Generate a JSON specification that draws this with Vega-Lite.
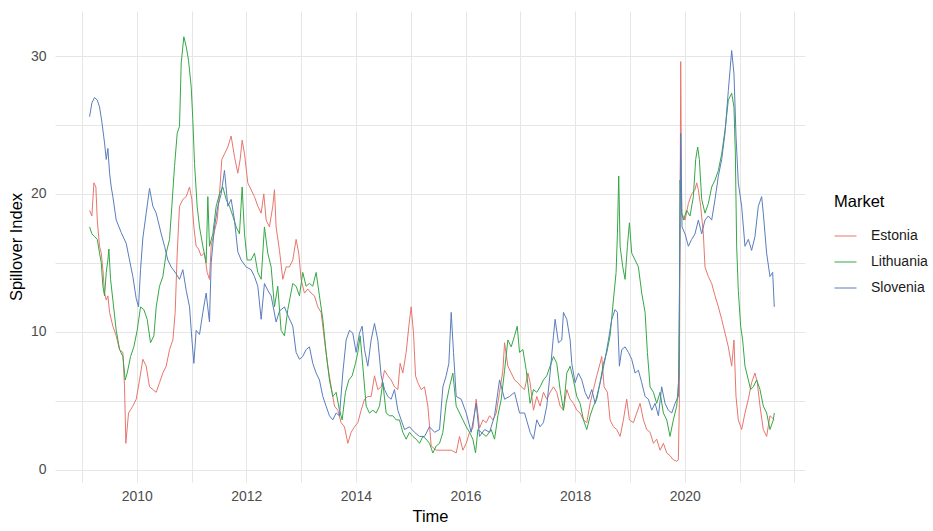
{
"$schema": "https://vega.github.io/schema/vega-lite/v6.json",
"width": 750, "height": 471,
"autosize": {"type": "none"},
"padding": {"left": 55, "top": 11, "right": 128, "bottom": 49},
"background": "white",
"config": {"view": {"stroke": null}, "font": "Liberation Sans"},
"data": {"values": [
{"time":2009.140,"market":"Estonia","value":18.8},{"time":2009.182,"market":"Estonia","value":18.4},{"time":2009.219,"market":"Estonia","value":20.8},{"time":2009.255,"market":"Estonia","value":20.5},{"time":2009.280,"market":"Estonia","value":18.1},{"time":2009.322,"market":"Estonia","value":16.2},{"time":2009.353,"market":"Estonia","value":15.7},{"time":2009.383,"market":"Estonia","value":14.5},{"time":2009.413,"market":"Estonia","value":12.8},{"time":2009.444,"market":"Estonia","value":12.3},{"time":2009.474,"market":"Estonia","value":12.6},{"time":2009.505,"market":"Estonia","value":11.4},{"time":2009.565,"market":"Estonia","value":10.4},{"time":2009.626,"market":"Estonia","value":9.7},{"time":2009.687,"market":"Estonia","value":8.7},{"time":2009.748,"market":"Estonia","value":8.5},{"time":2009.778,"market":"Estonia","value":6.0},{"time":2009.802,"market":"Estonia","value":1.9},{"time":2009.851,"market":"Estonia","value":4.1},{"time":2009.930,"market":"Estonia","value":4.6},{"time":2009.991,"market":"Estonia","value":5.1},{"time":2010.052,"market":"Estonia","value":6.5},{"time":2010.112,"market":"Estonia","value":8.0},{"time":2010.173,"market":"Estonia","value":7.5},{"time":2010.234,"market":"Estonia","value":6.0},{"time":2010.295,"market":"Estonia","value":5.8},{"time":2010.356,"market":"Estonia","value":5.6},{"time":2010.416,"market":"Estonia","value":6.3},{"time":2010.477,"market":"Estonia","value":7.0},{"time":2010.538,"market":"Estonia","value":7.5},{"time":2010.599,"market":"Estonia","value":8.7},{"time":2010.660,"market":"Estonia","value":9.4},{"time":2010.702,"market":"Estonia","value":11.4},{"time":2010.739,"market":"Estonia","value":15.7},{"time":2010.781,"market":"Estonia","value":19.1},{"time":2010.842,"market":"Estonia","value":19.6},{"time":2010.903,"market":"Estonia","value":19.8},{"time":2010.964,"market":"Estonia","value":20.5},{"time":2011.006,"market":"Estonia","value":19.6},{"time":2011.043,"market":"Estonia","value":17.6},{"time":2011.085,"market":"Estonia","value":16.2},{"time":2011.128,"market":"Estonia","value":16.0},{"time":2011.176,"market":"Estonia","value":15.5},{"time":2011.237,"market":"Estonia","value":15.7},{"time":2011.286,"market":"Estonia","value":14.3},{"time":2011.328,"market":"Estonia","value":13.8},{"time":2011.359,"market":"Estonia","value":16.2},{"time":2011.407,"market":"Estonia","value":17.1},{"time":2011.468,"market":"Estonia","value":18.1},{"time":2011.511,"market":"Estonia","value":20.0},{"time":2011.553,"market":"Estonia","value":22.5},{"time":2011.602,"market":"Estonia","value":22.9},{"time":2011.663,"market":"Estonia","value":23.4},{"time":2011.723,"market":"Estonia","value":24.2},{"time":2011.784,"market":"Estonia","value":22.7},{"time":2011.845,"market":"Estonia","value":21.5},{"time":2011.888,"market":"Estonia","value":22.5},{"time":2011.924,"market":"Estonia","value":23.9},{"time":2011.967,"market":"Estonia","value":22.9},{"time":2012.027,"market":"Estonia","value":20.8},{"time":2012.088,"market":"Estonia","value":20.3},{"time":2012.149,"market":"Estonia","value":19.8},{"time":2012.210,"market":"Estonia","value":19.1},{"time":2012.271,"market":"Estonia","value":18.6},{"time":2012.319,"market":"Estonia","value":20.0},{"time":2012.362,"market":"Estonia","value":18.1},{"time":2012.422,"market":"Estonia","value":17.6},{"time":2012.483,"market":"Estonia","value":19.1},{"time":2012.514,"market":"Estonia","value":20.3},{"time":2012.544,"market":"Estonia","value":17.6},{"time":2012.605,"market":"Estonia","value":15.9},{"time":2012.666,"market":"Estonia","value":13.8},{"time":2012.726,"market":"Estonia","value":14.7},{"time":2012.787,"market":"Estonia","value":14.7},{"time":2012.848,"market":"Estonia","value":15.2},{"time":2012.909,"market":"Estonia","value":16.7},{"time":2012.957,"market":"Estonia","value":15.7},{"time":2013.000,"market":"Estonia","value":13.8},{"time":2013.061,"market":"Estonia","value":12.8},{"time":2013.122,"market":"Estonia","value":13.1},{"time":2013.183,"market":"Estonia","value":12.8},{"time":2013.243,"market":"Estonia","value":12.6},{"time":2013.304,"market":"Estonia","value":11.8},{"time":2013.365,"market":"Estonia","value":11.4},{"time":2013.426,"market":"Estonia","value":9.4},{"time":2013.487,"market":"Estonia","value":7.5},{"time":2013.548,"market":"Estonia","value":6.0},{"time":2013.609,"market":"Estonia","value":4.6},{"time":2013.669,"market":"Estonia","value":4.3},{"time":2013.730,"market":"Estonia","value":3.4},{"time":2013.791,"market":"Estonia","value":3.1},{"time":2013.852,"market":"Estonia","value":1.9},{"time":2013.913,"market":"Estonia","value":2.7},{"time":2013.974,"market":"Estonia","value":3.1},{"time":2014.035,"market":"Estonia","value":3.4},{"time":2014.096,"market":"Estonia","value":4.3},{"time":2014.157,"market":"Estonia","value":5.1},{"time":2014.217,"market":"Estonia","value":5.3},{"time":2014.278,"market":"Estonia","value":5.3},{"time":2014.339,"market":"Estonia","value":6.8},{"time":2014.400,"market":"Estonia","value":5.8},{"time":2014.461,"market":"Estonia","value":6.0},{"time":2014.522,"market":"Estonia","value":7.2},{"time":2014.582,"market":"Estonia","value":6.8},{"time":2014.643,"market":"Estonia","value":6.5},{"time":2014.704,"market":"Estonia","value":6.0},{"time":2014.765,"market":"Estonia","value":5.8},{"time":2014.807,"market":"Estonia","value":7.7},{"time":2014.856,"market":"Estonia","value":7.0},{"time":2014.917,"market":"Estonia","value":8.5},{"time":2014.966,"market":"Estonia","value":10.4},{"time":2015.008,"market":"Estonia","value":11.8},{"time":2015.051,"market":"Estonia","value":9.9},{"time":2015.088,"market":"Estonia","value":6.8},{"time":2015.130,"market":"Estonia","value":6.3},{"time":2015.191,"market":"Estonia","value":5.8},{"time":2015.252,"market":"Estonia","value":6.0},{"time":2015.313,"market":"Estonia","value":4.6},{"time":2015.374,"market":"Estonia","value":1.7},{"time":2015.465,"market":"Estonia","value":1.4},{"time":2015.556,"market":"Estonia","value":1.4},{"time":2015.647,"market":"Estonia","value":1.4},{"time":2015.739,"market":"Estonia","value":1.4},{"time":2015.830,"market":"Estonia","value":1.2},{"time":2015.891,"market":"Estonia","value":2.4},{"time":2015.952,"market":"Estonia","value":1.4},{"time":2016.013,"market":"Estonia","value":1.9},{"time":2016.074,"market":"Estonia","value":2.7},{"time":2016.134,"market":"Estonia","value":3.0},{"time":2016.195,"market":"Estonia","value":5.1},{"time":2016.256,"market":"Estonia","value":3.0},{"time":2016.317,"market":"Estonia","value":3.6},{"time":2016.378,"market":"Estonia","value":3.4},{"time":2016.439,"market":"Estonia","value":3.9},{"time":2016.500,"market":"Estonia","value":3.6},{"time":2016.561,"market":"Estonia","value":4.1},{"time":2016.621,"market":"Estonia","value":5.6},{"time":2016.682,"market":"Estonia","value":7.2},{"time":2016.713,"market":"Estonia","value":9.2},{"time":2016.773,"market":"Estonia","value":7.5},{"time":2016.834,"market":"Estonia","value":7.0},{"time":2016.895,"market":"Estonia","value":6.5},{"time":2016.956,"market":"Estonia","value":6.3},{"time":2017.017,"market":"Estonia","value":6.0},{"time":2017.078,"market":"Estonia","value":5.8},{"time":2017.139,"market":"Estonia","value":7.0},{"time":2017.179,"market":"Estonia","value":6.3},{"time":2017.240,"market":"Estonia","value":4.3},{"time":2017.301,"market":"Estonia","value":5.3},{"time":2017.361,"market":"Estonia","value":4.6},{"time":2017.422,"market":"Estonia","value":5.6},{"time":2017.483,"market":"Estonia","value":5.1},{"time":2017.544,"market":"Estonia","value":5.6},{"time":2017.605,"market":"Estonia","value":6.0},{"time":2017.665,"market":"Estonia","value":5.6},{"time":2017.726,"market":"Estonia","value":4.6},{"time":2017.787,"market":"Estonia","value":4.3},{"time":2017.848,"market":"Estonia","value":5.8},{"time":2017.909,"market":"Estonia","value":5.1},{"time":2017.969,"market":"Estonia","value":4.8},{"time":2018.030,"market":"Estonia","value":4.3},{"time":2018.091,"market":"Estonia","value":4.1},{"time":2018.152,"market":"Estonia","value":3.6},{"time":2018.213,"market":"Estonia","value":3.4},{"time":2018.274,"market":"Estonia","value":4.8},{"time":2018.334,"market":"Estonia","value":5.8},{"time":2018.395,"market":"Estonia","value":6.8},{"time":2018.456,"market":"Estonia","value":7.7},{"time":2018.486,"market":"Estonia","value":8.2},{"time":2018.529,"market":"Estonia","value":6.0},{"time":2018.590,"market":"Estonia","value":5.6},{"time":2018.638,"market":"Estonia","value":3.6},{"time":2018.699,"market":"Estonia","value":3.1},{"time":2018.760,"market":"Estonia","value":2.9},{"time":2018.821,"market":"Estonia","value":2.4},{"time":2018.881,"market":"Estonia","value":3.6},{"time":2018.942,"market":"Estonia","value":5.1},{"time":2018.991,"market":"Estonia","value":3.6},{"time":2019.064,"market":"Estonia","value":3.4},{"time":2019.125,"market":"Estonia","value":4.1},{"time":2019.185,"market":"Estonia","value":4.8},{"time":2019.246,"market":"Estonia","value":3.6},{"time":2019.307,"market":"Estonia","value":2.9},{"time":2019.368,"market":"Estonia","value":2.7},{"time":2019.429,"market":"Estonia","value":1.9},{"time":2019.489,"market":"Estonia","value":2.2},{"time":2019.550,"market":"Estonia","value":1.4},{"time":2019.611,"market":"Estonia","value":1.9},{"time":2019.672,"market":"Estonia","value":1.2},{"time":2019.732,"market":"Estonia","value":1.0},{"time":2019.793,"market":"Estonia","value":0.7},{"time":2019.854,"market":"Estonia","value":0.6},{"time":2019.884,"market":"Estonia","value":0.7},{"time":2019.902,"market":"Estonia","value":4.8},{"time":2019.927,"market":"Estonia","value":29.6},{"time":2019.945,"market":"Estonia","value":18.6},{"time":2020.006,"market":"Estonia","value":18.1},{"time":2020.067,"market":"Estonia","value":19.3},{"time":2020.127,"market":"Estonia","value":20.0},{"time":2020.188,"market":"Estonia","value":20.3},{"time":2020.219,"market":"Estonia","value":20.8},{"time":2020.249,"market":"Estonia","value":20.3},{"time":2020.291,"market":"Estonia","value":19.1},{"time":2020.340,"market":"Estonia","value":17.1},{"time":2020.370,"market":"Estonia","value":14.7},{"time":2020.431,"market":"Estonia","value":14.0},{"time":2020.492,"market":"Estonia","value":13.5},{"time":2020.553,"market":"Estonia","value":12.6},{"time":2020.614,"market":"Estonia","value":11.8},{"time":2020.675,"market":"Estonia","value":10.9},{"time":2020.735,"market":"Estonia","value":9.9},{"time":2020.796,"market":"Estonia","value":8.9},{"time":2020.857,"market":"Estonia","value":7.5},{"time":2020.899,"market":"Estonia","value":9.4},{"time":2020.936,"market":"Estonia","value":5.3},{"time":2020.978,"market":"Estonia","value":3.6},{"time":2021.039,"market":"Estonia","value":2.9},{"time":2021.100,"market":"Estonia","value":4.1},{"time":2021.161,"market":"Estonia","value":5.1},{"time":2021.221,"market":"Estonia","value":6.3},{"time":2021.282,"market":"Estonia","value":7.0},{"time":2021.325,"market":"Estonia","value":6.3},{"time":2021.374,"market":"Estonia","value":4.6},{"time":2021.434,"market":"Estonia","value":2.9},{"time":2021.495,"market":"Estonia","value":2.4},{"time":2021.556,"market":"Estonia","value":3.9},{"time":2021.635,"market":"Estonia","value":3.6},
{"time":2009.140,"market":"Lithuania","value":17.6},{"time":2009.182,"market":"Lithuania","value":17.1},{"time":2009.231,"market":"Lithuania","value":16.9},{"time":2009.280,"market":"Lithuania","value":16.7},{"time":2009.322,"market":"Lithuania","value":15.7},{"time":2009.353,"market":"Lithuania","value":15.0},{"time":2009.383,"market":"Lithuania","value":13.3},{"time":2009.413,"market":"Lithuania","value":12.6},{"time":2009.444,"market":"Lithuania","value":14.3},{"time":2009.474,"market":"Lithuania","value":15.2},{"time":2009.492,"market":"Lithuania","value":16.0},{"time":2009.523,"market":"Lithuania","value":13.8},{"time":2009.565,"market":"Lithuania","value":12.3},{"time":2009.626,"market":"Lithuania","value":10.1},{"time":2009.687,"market":"Lithuania","value":8.7},{"time":2009.748,"market":"Lithuania","value":8.2},{"time":2009.790,"market":"Lithuania","value":6.5},{"time":2009.827,"market":"Lithuania","value":7.0},{"time":2009.888,"market":"Lithuania","value":8.2},{"time":2009.948,"market":"Lithuania","value":8.9},{"time":2010.009,"market":"Lithuania","value":10.1},{"time":2010.070,"market":"Lithuania","value":11.8},{"time":2010.131,"market":"Lithuania","value":11.6},{"time":2010.191,"market":"Lithuania","value":10.9},{"time":2010.252,"market":"Lithuania","value":9.2},{"time":2010.313,"market":"Lithuania","value":9.7},{"time":2010.356,"market":"Lithuania","value":11.8},{"time":2010.416,"market":"Lithuania","value":13.3},{"time":2010.477,"market":"Lithuania","value":14.0},{"time":2010.538,"market":"Lithuania","value":15.7},{"time":2010.599,"market":"Lithuania","value":16.7},{"time":2010.641,"market":"Lithuania","value":19.1},{"time":2010.690,"market":"Lithuania","value":22.0},{"time":2010.739,"market":"Lithuania","value":24.4},{"time":2010.781,"market":"Lithuania","value":24.9},{"time":2010.812,"market":"Lithuania","value":29.5},{"time":2010.860,"market":"Lithuania","value":31.4},{"time":2010.903,"market":"Lithuania","value":30.7},{"time":2010.945,"market":"Lithuania","value":29.7},{"time":2010.994,"market":"Lithuania","value":27.8},{"time":2011.024,"market":"Lithuania","value":25.4},{"time":2011.055,"market":"Lithuania","value":22.2},{"time":2011.103,"market":"Lithuania","value":19.1},{"time":2011.146,"market":"Lithuania","value":17.6},{"time":2011.207,"market":"Lithuania","value":16.2},{"time":2011.267,"market":"Lithuania","value":15.0},{"time":2011.298,"market":"Lithuania","value":19.8},{"time":2011.328,"market":"Lithuania","value":16.2},{"time":2011.389,"market":"Lithuania","value":17.1},{"time":2011.450,"market":"Lithuania","value":19.1},{"time":2011.511,"market":"Lithuania","value":20.0},{"time":2011.571,"market":"Lithuania","value":20.5},{"time":2011.632,"market":"Lithuania","value":19.6},{"time":2011.693,"market":"Lithuania","value":19.1},{"time":2011.754,"market":"Lithuania","value":18.4},{"time":2011.815,"market":"Lithuania","value":17.6},{"time":2011.875,"market":"Lithuania","value":17.1},{"time":2011.924,"market":"Lithuania","value":20.5},{"time":2011.967,"market":"Lithuania","value":17.1},{"time":2012.015,"market":"Lithuania","value":15.2},{"time":2012.088,"market":"Lithuania","value":15.2},{"time":2012.149,"market":"Lithuania","value":15.7},{"time":2012.210,"market":"Lithuania","value":14.3},{"time":2012.271,"market":"Lithuania","value":13.8},{"time":2012.331,"market":"Lithuania","value":17.6},{"time":2012.392,"market":"Lithuania","value":15.7},{"time":2012.453,"market":"Lithuania","value":14.7},{"time":2012.514,"market":"Lithuania","value":11.8},{"time":2012.574,"market":"Lithuania","value":13.3},{"time":2012.635,"market":"Lithuania","value":10.1},{"time":2012.696,"market":"Lithuania","value":9.7},{"time":2012.757,"market":"Lithuania","value":11.6},{"time":2012.848,"market":"Lithuania","value":13.5},{"time":2012.909,"market":"Lithuania","value":13.3},{"time":2012.970,"market":"Lithuania","value":12.6},{"time":2013.030,"market":"Lithuania","value":14.3},{"time":2013.091,"market":"Lithuania","value":13.3},{"time":2013.152,"market":"Lithuania","value":13.5},{"time":2013.213,"market":"Lithuania","value":13.3},{"time":2013.274,"market":"Lithuania","value":14.3},{"time":2013.335,"market":"Lithuania","value":12.6},{"time":2013.396,"market":"Lithuania","value":10.9},{"time":2013.456,"market":"Lithuania","value":8.5},{"time":2013.517,"market":"Lithuania","value":6.5},{"time":2013.578,"market":"Lithuania","value":5.3},{"time":2013.639,"market":"Lithuania","value":5.6},{"time":2013.700,"market":"Lithuania","value":4.3},{"time":2013.749,"market":"Lithuania","value":3.6},{"time":2013.809,"market":"Lithuania","value":5.6},{"time":2013.870,"market":"Lithuania","value":6.5},{"time":2013.931,"market":"Lithuania","value":6.8},{"time":2013.992,"market":"Lithuania","value":7.7},{"time":2014.035,"market":"Lithuania","value":8.5},{"time":2014.077,"market":"Lithuania","value":9.7},{"time":2014.126,"market":"Lithuania","value":7.5},{"time":2014.187,"market":"Lithuania","value":4.6},{"time":2014.248,"market":"Lithuania","value":4.1},{"time":2014.309,"market":"Lithuania","value":4.3},{"time":2014.369,"market":"Lithuania","value":4.1},{"time":2014.430,"market":"Lithuania","value":4.6},{"time":2014.491,"market":"Lithuania","value":6.3},{"time":2014.552,"market":"Lithuania","value":4.1},{"time":2014.613,"market":"Lithuania","value":3.9},{"time":2014.674,"market":"Lithuania","value":3.9},{"time":2014.735,"market":"Lithuania","value":3.6},{"time":2014.795,"market":"Lithuania","value":3.6},{"time":2014.856,"market":"Lithuania","value":2.7},{"time":2014.917,"market":"Lithuania","value":2.2},{"time":2014.978,"market":"Lithuania","value":2.7},{"time":2015.039,"market":"Lithuania","value":2.4},{"time":2015.100,"market":"Lithuania","value":2.2},{"time":2015.161,"market":"Lithuania","value":1.9},{"time":2015.222,"market":"Lithuania","value":2.4},{"time":2015.282,"market":"Lithuania","value":2.2},{"time":2015.343,"market":"Lithuania","value":1.9},{"time":2015.404,"market":"Lithuania","value":1.2},{"time":2015.465,"market":"Lithuania","value":1.7},{"time":2015.526,"market":"Lithuania","value":1.9},{"time":2015.587,"market":"Lithuania","value":2.7},{"time":2015.647,"market":"Lithuania","value":4.8},{"time":2015.708,"market":"Lithuania","value":6.0},{"time":2015.769,"market":"Lithuania","value":7.0},{"time":2015.830,"market":"Lithuania","value":4.6},{"time":2015.891,"market":"Lithuania","value":4.1},{"time":2015.952,"market":"Lithuania","value":3.6},{"time":2016.013,"market":"Lithuania","value":3.1},{"time":2016.074,"market":"Lithuania","value":2.7},{"time":2016.134,"market":"Lithuania","value":2.2},{"time":2016.183,"market":"Lithuania","value":1.2},{"time":2016.226,"market":"Lithuania","value":2.9},{"time":2016.287,"market":"Lithuania","value":2.7},{"time":2016.378,"market":"Lithuania","value":2.4},{"time":2016.469,"market":"Lithuania","value":2.9},{"time":2016.530,"market":"Lithuania","value":2.2},{"time":2016.591,"market":"Lithuania","value":3.9},{"time":2016.652,"market":"Lithuania","value":5.1},{"time":2016.713,"market":"Lithuania","value":7.2},{"time":2016.773,"market":"Lithuania","value":9.4},{"time":2016.834,"market":"Lithuania","value":8.9},{"time":2016.895,"market":"Lithuania","value":9.7},{"time":2016.944,"market":"Lithuania","value":10.4},{"time":2016.986,"market":"Lithuania","value":8.5},{"time":2017.047,"market":"Lithuania","value":8.7},{"time":2017.108,"market":"Lithuania","value":7.2},{"time":2017.179,"market":"Lithuania","value":4.8},{"time":2017.240,"market":"Lithuania","value":5.8},{"time":2017.301,"market":"Lithuania","value":5.6},{"time":2017.361,"market":"Lithuania","value":6.0},{"time":2017.422,"market":"Lithuania","value":6.5},{"time":2017.483,"market":"Lithuania","value":6.8},{"time":2017.544,"market":"Lithuania","value":7.5},{"time":2017.605,"market":"Lithuania","value":8.2},{"time":2017.665,"market":"Lithuania","value":7.7},{"time":2017.726,"market":"Lithuania","value":5.8},{"time":2017.787,"market":"Lithuania","value":4.3},{"time":2017.848,"market":"Lithuania","value":7.0},{"time":2017.909,"market":"Lithuania","value":7.5},{"time":2017.969,"market":"Lithuania","value":6.5},{"time":2018.030,"market":"Lithuania","value":5.3},{"time":2018.091,"market":"Lithuania","value":4.8},{"time":2018.152,"market":"Lithuania","value":3.6},{"time":2018.213,"market":"Lithuania","value":2.9},{"time":2018.274,"market":"Lithuania","value":3.9},{"time":2018.334,"market":"Lithuania","value":4.6},{"time":2018.395,"market":"Lithuania","value":5.1},{"time":2018.456,"market":"Lithuania","value":6.3},{"time":2018.517,"market":"Lithuania","value":7.7},{"time":2018.578,"market":"Lithuania","value":8.5},{"time":2018.638,"market":"Lithuania","value":9.7},{"time":2018.699,"market":"Lithuania","value":12.3},{"time":2018.748,"market":"Lithuania","value":14.3},{"time":2018.772,"market":"Lithuania","value":17.1},{"time":2018.796,"market":"Lithuania","value":21.3},{"time":2018.821,"market":"Lithuania","value":16.2},{"time":2018.869,"market":"Lithuania","value":14.7},{"time":2018.912,"market":"Lithuania","value":13.8},{"time":2018.954,"market":"Lithuania","value":16.2},{"time":2018.991,"market":"Lithuania","value":17.9},{"time":2019.033,"market":"Lithuania","value":15.7},{"time":2019.094,"market":"Lithuania","value":15.2},{"time":2019.155,"market":"Lithuania","value":14.7},{"time":2019.216,"market":"Lithuania","value":12.8},{"time":2019.277,"market":"Lithuania","value":11.4},{"time":2019.319,"market":"Lithuania","value":8.5},{"time":2019.368,"market":"Lithuania","value":6.0},{"time":2019.429,"market":"Lithuania","value":5.6},{"time":2019.489,"market":"Lithuania","value":4.8},{"time":2019.550,"market":"Lithuania","value":5.6},{"time":2019.611,"market":"Lithuania","value":4.1},{"time":2019.672,"market":"Lithuania","value":3.6},{"time":2019.732,"market":"Lithuania","value":2.4},{"time":2019.793,"market":"Lithuania","value":3.6},{"time":2019.854,"market":"Lithuania","value":4.6},{"time":2019.896,"market":"Lithuania","value":6.8},{"time":2019.915,"market":"Lithuania","value":21.0},{"time":2019.945,"market":"Lithuania","value":18.6},{"time":2019.976,"market":"Lithuania","value":18.1},{"time":2020.036,"market":"Lithuania","value":18.8},{"time":2020.097,"market":"Lithuania","value":18.4},{"time":2020.158,"market":"Lithuania","value":19.8},{"time":2020.200,"market":"Lithuania","value":22.5},{"time":2020.237,"market":"Lithuania","value":23.4},{"time":2020.267,"market":"Lithuania","value":22.5},{"time":2020.310,"market":"Lithuania","value":19.6},{"time":2020.370,"market":"Lithuania","value":18.6},{"time":2020.431,"market":"Lithuania","value":19.3},{"time":2020.492,"market":"Lithuania","value":20.5},{"time":2020.553,"market":"Lithuania","value":21.0},{"time":2020.614,"market":"Lithuania","value":21.7},{"time":2020.675,"market":"Lithuania","value":22.9},{"time":2020.735,"market":"Lithuania","value":24.6},{"time":2020.796,"market":"Lithuania","value":26.8},{"time":2020.857,"market":"Lithuania","value":27.3},{"time":2020.899,"market":"Lithuania","value":26.3},{"time":2020.924,"market":"Lithuania","value":22.9},{"time":2020.948,"market":"Lithuania","value":16.2},{"time":2020.978,"market":"Lithuania","value":13.0},{"time":2021.021,"market":"Lithuania","value":10.4},{"time":2021.057,"market":"Lithuania","value":9.4},{"time":2021.100,"market":"Lithuania","value":7.5},{"time":2021.161,"market":"Lithuania","value":6.5},{"time":2021.203,"market":"Lithuania","value":5.8},{"time":2021.252,"market":"Lithuania","value":6.0},{"time":2021.313,"market":"Lithuania","value":6.5},{"time":2021.374,"market":"Lithuania","value":5.8},{"time":2021.434,"market":"Lithuania","value":4.6},{"time":2021.495,"market":"Lithuania","value":4.1},{"time":2021.556,"market":"Lithuania","value":2.9},{"time":2021.617,"market":"Lithuania","value":3.6},{"time":2021.635,"market":"Lithuania","value":4.1},
{"time":2009.140,"market":"Slovenia","value":25.6},{"time":2009.182,"market":"Slovenia","value":26.6},{"time":2009.231,"market":"Slovenia","value":27.0},{"time":2009.280,"market":"Slovenia","value":26.8},{"time":2009.322,"market":"Slovenia","value":26.3},{"time":2009.365,"market":"Slovenia","value":25.2},{"time":2009.413,"market":"Slovenia","value":23.7},{"time":2009.444,"market":"Slovenia","value":22.5},{"time":2009.474,"market":"Slovenia","value":23.3},{"time":2009.505,"market":"Slovenia","value":21.5},{"time":2009.535,"market":"Slovenia","value":20.5},{"time":2009.565,"market":"Slovenia","value":19.8},{"time":2009.626,"market":"Slovenia","value":18.1},{"time":2009.717,"market":"Slovenia","value":17.2},{"time":2009.809,"market":"Slovenia","value":16.4},{"time":2009.869,"market":"Slovenia","value":15.2},{"time":2009.930,"market":"Slovenia","value":14.0},{"time":2009.991,"market":"Slovenia","value":12.4},{"time":2010.033,"market":"Slovenia","value":11.8},{"time":2010.070,"market":"Slovenia","value":14.5},{"time":2010.112,"market":"Slovenia","value":16.8},{"time":2010.173,"market":"Slovenia","value":18.6},{"time":2010.234,"market":"Slovenia","value":20.4},{"time":2010.295,"market":"Slovenia","value":19.1},{"time":2010.356,"market":"Slovenia","value":18.6},{"time":2010.447,"market":"Slovenia","value":17.1},{"time":2010.508,"market":"Slovenia","value":16.2},{"time":2010.568,"market":"Slovenia","value":15.2},{"time":2010.629,"market":"Slovenia","value":14.7},{"time":2010.720,"market":"Slovenia","value":14.2},{"time":2010.781,"market":"Slovenia","value":13.8},{"time":2010.842,"market":"Slovenia","value":14.5},{"time":2010.903,"market":"Slovenia","value":13.0},{"time":2010.964,"market":"Slovenia","value":11.8},{"time":2011.006,"market":"Slovenia","value":9.5},{"time":2011.043,"market":"Slovenia","value":7.7},{"time":2011.085,"market":"Slovenia","value":10.1},{"time":2011.146,"market":"Slovenia","value":9.8},{"time":2011.207,"market":"Slovenia","value":11.4},{"time":2011.267,"market":"Slovenia","value":12.8},{"time":2011.328,"market":"Slovenia","value":10.7},{"time":2011.359,"market":"Slovenia","value":15.0},{"time":2011.419,"market":"Slovenia","value":17.6},{"time":2011.480,"market":"Slovenia","value":19.1},{"time":2011.541,"market":"Slovenia","value":20.0},{"time":2011.602,"market":"Slovenia","value":21.7},{"time":2011.663,"market":"Slovenia","value":19.1},{"time":2011.723,"market":"Slovenia","value":19.6},{"time":2011.784,"market":"Slovenia","value":18.1},{"time":2011.845,"market":"Slovenia","value":15.8},{"time":2011.906,"market":"Slovenia","value":15.2},{"time":2011.997,"market":"Slovenia","value":14.7},{"time":2012.088,"market":"Slovenia","value":14.5},{"time":2012.149,"market":"Slovenia","value":14.0},{"time":2012.210,"market":"Slovenia","value":13.3},{"time":2012.271,"market":"Slovenia","value":10.9},{"time":2012.331,"market":"Slovenia","value":13.5},{"time":2012.392,"market":"Slovenia","value":13.0},{"time":2012.453,"market":"Slovenia","value":12.6},{"time":2012.544,"market":"Slovenia","value":10.7},{"time":2012.605,"market":"Slovenia","value":11.5},{"time":2012.696,"market":"Slovenia","value":11.8},{"time":2012.757,"market":"Slovenia","value":11.2},{"time":2012.848,"market":"Slovenia","value":10.4},{"time":2012.909,"market":"Slovenia","value":8.5},{"time":2012.970,"market":"Slovenia","value":8.0},{"time":2013.030,"market":"Slovenia","value":8.2},{"time":2013.091,"market":"Slovenia","value":8.7},{"time":2013.152,"market":"Slovenia","value":8.9},{"time":2013.213,"market":"Slovenia","value":7.7},{"time":2013.274,"market":"Slovenia","value":7.0},{"time":2013.335,"market":"Slovenia","value":6.5},{"time":2013.396,"market":"Slovenia","value":5.3},{"time":2013.456,"market":"Slovenia","value":4.6},{"time":2013.517,"market":"Slovenia","value":3.9},{"time":2013.578,"market":"Slovenia","value":3.6},{"time":2013.639,"market":"Slovenia","value":4.1},{"time":2013.700,"market":"Slovenia","value":3.9},{"time":2013.761,"market":"Slovenia","value":7.0},{"time":2013.822,"market":"Slovenia","value":9.4},{"time":2013.883,"market":"Slovenia","value":10.1},{"time":2013.943,"market":"Slovenia","value":9.9},{"time":2014.004,"market":"Slovenia","value":8.5},{"time":2014.065,"market":"Slovenia","value":9.9},{"time":2014.114,"market":"Slovenia","value":10.4},{"time":2014.157,"market":"Slovenia","value":8.7},{"time":2014.217,"market":"Slovenia","value":7.5},{"time":2014.278,"market":"Slovenia","value":9.4},{"time":2014.339,"market":"Slovenia","value":10.6},{"time":2014.400,"market":"Slovenia","value":9.4},{"time":2014.461,"market":"Slovenia","value":6.8},{"time":2014.522,"market":"Slovenia","value":5.8},{"time":2014.582,"market":"Slovenia","value":5.3},{"time":2014.643,"market":"Slovenia","value":5.1},{"time":2014.704,"market":"Slovenia","value":5.8},{"time":2014.765,"market":"Slovenia","value":4.3},{"time":2014.826,"market":"Slovenia","value":3.6},{"time":2014.887,"market":"Slovenia","value":2.9},{"time":2014.978,"market":"Slovenia","value":3.1},{"time":2015.069,"market":"Slovenia","value":2.7},{"time":2015.161,"market":"Slovenia","value":2.4},{"time":2015.252,"market":"Slovenia","value":2.4},{"time":2015.343,"market":"Slovenia","value":3.1},{"time":2015.435,"market":"Slovenia","value":2.7},{"time":2015.526,"market":"Slovenia","value":2.9},{"time":2015.587,"market":"Slovenia","value":6.0},{"time":2015.647,"market":"Slovenia","value":6.8},{"time":2015.696,"market":"Slovenia","value":7.7},{"time":2015.739,"market":"Slovenia","value":11.4},{"time":2015.781,"market":"Slovenia","value":8.5},{"time":2015.830,"market":"Slovenia","value":5.3},{"time":2015.921,"market":"Slovenia","value":5.1},{"time":2016.013,"market":"Slovenia","value":4.1},{"time":2016.104,"market":"Slovenia","value":2.7},{"time":2016.195,"market":"Slovenia","value":4.8},{"time":2016.256,"market":"Slovenia","value":2.4},{"time":2016.348,"market":"Slovenia","value":2.9},{"time":2016.439,"market":"Slovenia","value":2.7},{"time":2016.530,"market":"Slovenia","value":3.9},{"time":2016.621,"market":"Slovenia","value":6.5},{"time":2016.713,"market":"Slovenia","value":5.1},{"time":2016.804,"market":"Slovenia","value":5.3},{"time":2016.895,"market":"Slovenia","value":5.6},{"time":2016.986,"market":"Slovenia","value":4.1},{"time":2017.078,"market":"Slovenia","value":4.1},{"time":2017.179,"market":"Slovenia","value":2.7},{"time":2017.240,"market":"Slovenia","value":2.2},{"time":2017.301,"market":"Slovenia","value":3.6},{"time":2017.361,"market":"Slovenia","value":3.1},{"time":2017.422,"market":"Slovenia","value":3.4},{"time":2017.483,"market":"Slovenia","value":4.6},{"time":2017.544,"market":"Slovenia","value":7.0},{"time":2017.605,"market":"Slovenia","value":9.7},{"time":2017.635,"market":"Slovenia","value":10.9},{"time":2017.696,"market":"Slovenia","value":9.2},{"time":2017.757,"market":"Slovenia","value":9.4},{"time":2017.787,"market":"Slovenia","value":11.4},{"time":2017.848,"market":"Slovenia","value":10.9},{"time":2017.909,"market":"Slovenia","value":9.4},{"time":2017.939,"market":"Slovenia","value":7.7},{"time":2018.000,"market":"Slovenia","value":6.3},{"time":2018.061,"market":"Slovenia","value":7.0},{"time":2018.122,"market":"Slovenia","value":6.5},{"time":2018.182,"market":"Slovenia","value":5.6},{"time":2018.243,"market":"Slovenia","value":5.1},{"time":2018.304,"market":"Slovenia","value":5.8},{"time":2018.365,"market":"Slovenia","value":4.8},{"time":2018.426,"market":"Slovenia","value":5.8},{"time":2018.486,"market":"Slovenia","value":6.8},{"time":2018.547,"market":"Slovenia","value":8.0},{"time":2018.608,"market":"Slovenia","value":9.4},{"time":2018.669,"market":"Slovenia","value":10.9},{"time":2018.729,"market":"Slovenia","value":11.6},{"time":2018.772,"market":"Slovenia","value":11.4},{"time":2018.808,"market":"Slovenia","value":7.5},{"time":2018.851,"market":"Slovenia","value":8.7},{"time":2018.912,"market":"Slovenia","value":8.9},{"time":2018.973,"market":"Slovenia","value":8.5},{"time":2019.033,"market":"Slovenia","value":8.0},{"time":2019.094,"market":"Slovenia","value":7.0},{"time":2019.155,"market":"Slovenia","value":7.2},{"time":2019.216,"market":"Slovenia","value":6.3},{"time":2019.277,"market":"Slovenia","value":5.3},{"time":2019.337,"market":"Slovenia","value":5.1},{"time":2019.398,"market":"Slovenia","value":4.3},{"time":2019.459,"market":"Slovenia","value":4.8},{"time":2019.520,"market":"Slovenia","value":3.9},{"time":2019.580,"market":"Slovenia","value":6.0},{"time":2019.641,"market":"Slovenia","value":4.8},{"time":2019.702,"market":"Slovenia","value":4.3},{"time":2019.763,"market":"Slovenia","value":4.1},{"time":2019.824,"market":"Slovenia","value":4.8},{"time":2019.884,"market":"Slovenia","value":5.3},{"time":2019.902,"market":"Slovenia","value":11.6},{"time":2019.927,"market":"Slovenia","value":24.4},{"time":2019.951,"market":"Slovenia","value":17.6},{"time":2020.006,"market":"Slovenia","value":17.1},{"time":2020.067,"market":"Slovenia","value":16.2},{"time":2020.127,"market":"Slovenia","value":16.7},{"time":2020.188,"market":"Slovenia","value":17.1},{"time":2020.249,"market":"Slovenia","value":18.1},{"time":2020.310,"market":"Slovenia","value":17.1},{"time":2020.370,"market":"Slovenia","value":18.1},{"time":2020.431,"market":"Slovenia","value":18.4},{"time":2020.492,"market":"Slovenia","value":18.1},{"time":2020.553,"market":"Slovenia","value":19.6},{"time":2020.614,"market":"Slovenia","value":21.3},{"time":2020.675,"market":"Slovenia","value":22.5},{"time":2020.735,"market":"Slovenia","value":24.4},{"time":2020.796,"market":"Slovenia","value":27.5},{"time":2020.857,"market":"Slovenia","value":30.4},{"time":2020.899,"market":"Slovenia","value":28.7},{"time":2020.936,"market":"Slovenia","value":24.2},{"time":2020.978,"market":"Slovenia","value":20.8},{"time":2021.039,"market":"Slovenia","value":19.1},{"time":2021.100,"market":"Slovenia","value":16.2},{"time":2021.161,"market":"Slovenia","value":16.7},{"time":2021.221,"market":"Slovenia","value":15.9},{"time":2021.282,"market":"Slovenia","value":16.9},{"time":2021.343,"market":"Slovenia","value":19.1},{"time":2021.404,"market":"Slovenia","value":19.8},{"time":2021.434,"market":"Slovenia","value":18.6},{"time":2021.495,"market":"Slovenia","value":15.7},{"time":2021.556,"market":"Slovenia","value":14.0},{"time":2021.605,"market":"Slovenia","value":14.3},{"time":2021.635,"market":"Slovenia","value":11.8}
]},
"mark": {"type": "line", "strokeWidth": 1, "interpolate": "linear"},
"encoding": {
  "x": {"field": "time", "type": "quantitative", "title": "Time",
    "scale": {"domain": [2008.509, 2022.195], "nice": false, "zero": false},
    "axis": {"values": [2009,2010,2011,2012,2013,2014,2015,2016,2017,2018,2019,2020,2021,2022], "format": "d",
      "labelExpr": "datum.value % 2 == 0 && datum.value <= 2020 ? datum.label : ''",
      "domain": false, "ticks": false, "grid": true, "gridColor": "#E6E6E6", "gridWidth": 1,
      "labelColor": "#4D4D4D", "labelFontSize": 14, "labelPadding": 7, "labelFont": "Liberation Sans",
      "titleColor": "#000000", "titleFontSize": 16.5, "titleFontWeight": "normal", "titleFont": "Liberation Sans", "titlePadding": 5}},
  "y": {"field": "value", "type": "quantitative", "title": "Spillover Index",
    "scale": {"domain": [-0.907, 33.27], "nice": false, "zero": false},
    "axis": {"values": [0,5,10,15,20,25,30],
      "labelExpr": "datum.value % 10 == 0 ? datum.label : ''",
      "domain": false, "ticks": false, "grid": true, "gridColor": "#E6E6E6", "gridWidth": 1,
      "labelColor": "#4D4D4D", "labelFontSize": 14, "labelPadding": 9, "labelFont": "Liberation Sans",
      "titleColor": "#000000", "titleFontSize": 16.5, "titleFontWeight": "normal", "titleFont": "Liberation Sans", "titlePadding": 6}},
  "color": {"field": "market", "type": "nominal", "title": "Market",
    "scale": {"domain": ["Estonia", "Lithuania", "Slovenia"], "range": ["#E8766D", "#35A845", "#5A7DBE"]},
    "legend": {"orient": "none", "legendX": 779, "legendY": 183, "symbolType": "stroke", "symbolSize": 484, "symbolStrokeWidth": 1,
      "padding": 0, "titlePadding": 14, "rowPadding": 7, "labelOffset": 14,
      "titleFontSize": 16.5, "titleFontWeight": "normal", "titleColor": "#000000", "titleFont": "Liberation Sans",
      "labelFontSize": 14, "labelColor": "#1A1A1A", "labelFont": "Liberation Sans"}}
}
}
